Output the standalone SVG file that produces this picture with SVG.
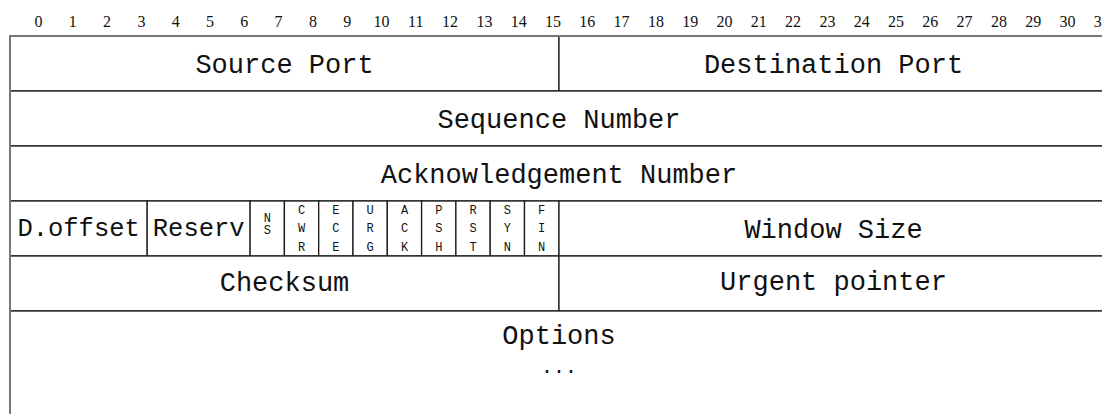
<svg xmlns="http://www.w3.org/2000/svg" width="1102" height="414" viewBox="0 0 1102 414">
<style>
.cell{fill:#fff;stroke:#1a1a1a;stroke-width:1.3}
.lbl{font-family:"Liberation Mono","DejaVu Sans Mono",monospace;font-size:27px;fill:#111;text-anchor:middle}
.mid{font-size:25.5px}
.dots{font-size:20px}
.flag{font-family:"Liberation Mono","DejaVu Sans Mono",monospace;font-size:12px;fill:#111;text-anchor:middle}
.ruler{font-family:"Liberation Serif","DejaVu Serif",serif;font-size:16px;fill:#111;text-anchor:middle}
.frame{fill:none;stroke:#777;stroke-width:2}
</style>
<rect width="1102" height="414" fill="#fff"/>
<g id="ruler" class="ruler">
<text x="38.5" y="26.5">0</text><text x="72.8" y="26.5">1</text><text x="107.1" y="26.5">2</text><text x="141.4" y="26.5">3</text><text x="175.7" y="26.5">4</text><text x="210" y="26.5">5</text><text x="244.3" y="26.5">6</text><text x="278.6" y="26.5">7</text><text x="312.9" y="26.5">8</text><text x="347.2" y="26.5">9</text><text x="381.5" y="26.5">10</text><text x="415.8" y="26.5">11</text><text x="450.1" y="26.5">12</text><text x="484.4" y="26.5">13</text><text x="518.7" y="26.5">14</text><text x="553" y="26.5">15</text><text x="587.3" y="26.5">16</text><text x="621.6" y="26.5">17</text><text x="655.9" y="26.5">18</text><text x="690.2" y="26.5">19</text><text x="724.5" y="26.5">20</text><text x="758.8" y="26.5">21</text><text x="793.1" y="26.5">22</text><text x="827.4" y="26.5">23</text><text x="861.7" y="26.5">24</text><text x="896" y="26.5">25</text><text x="930.3" y="26.5">26</text><text x="964.6" y="26.5">27</text><text x="998.9" y="26.5">28</text><text x="1033.2" y="26.5">29</text><text x="1067.5" y="26.5">30</text><text x="1101.8" y="26.5">31</text>
</g>
<g id="source-port"><rect class="cell" x="10" y="36" width="549" height="55"/><text class="lbl" x="284.5" y="73">Source Port</text></g>
<g id="destination-port"><rect class="cell" x="559" y="36" width="549" height="55"/><text class="lbl" x="833.5" y="73">Destination Port</text></g>
<g id="sequence-number"><rect class="cell" x="10" y="91" width="1098" height="55"/><text class="lbl" x="559" y="128">Sequence Number</text></g>
<g id="ack-number"><rect class="cell" x="10" y="146" width="1098" height="55"/><text class="lbl" x="559" y="183">Acknowledgement Number</text></g>
<g id="data-offset"><rect class="cell" x="10" y="201" width="137.2" height="55"/><text class="lbl mid" x="78.6" y="236">D.offset</text></g>
<g id="reserved"><rect class="cell" x="147.2" y="201" width="102.9" height="55"/><text class="lbl mid" x="198.7" y="236">Reserv</text></g>
<g id="flag-ns"><rect class="cell" x="250.1" y="201" width="34.3" height="55"/><text class="flag" x="267.3" y="222">N</text><text class="flag" x="267.3" y="234">S</text></g>
<g id="flag-cwr"><rect class="cell" x="284.4" y="201" width="34.3" height="55"/><text class="flag" x="301.6" y="214">C</text><text class="flag" x="301.6" y="231.5">W</text><text class="flag" x="301.6" y="251">R</text></g>
<g id="flag-ece"><rect class="cell" x="318.7" y="201" width="34.3" height="55"/><text class="flag" x="335.9" y="214">E</text><text class="flag" x="335.9" y="231.5">C</text><text class="flag" x="335.9" y="251">E</text></g>
<g id="flag-urg"><rect class="cell" x="353" y="201" width="34.3" height="55"/><text class="flag" x="370.2" y="214">U</text><text class="flag" x="370.2" y="231.5">R</text><text class="flag" x="370.2" y="251">G</text></g>
<g id="flag-ack"><rect class="cell" x="387.3" y="201" width="34.3" height="55"/><text class="flag" x="404.5" y="214">A</text><text class="flag" x="404.5" y="231.5">C</text><text class="flag" x="404.5" y="251">K</text></g>
<g id="flag-psh"><rect class="cell" x="421.6" y="201" width="34.3" height="55"/><text class="flag" x="438.8" y="214">P</text><text class="flag" x="438.8" y="231.5">S</text><text class="flag" x="438.8" y="251">H</text></g>
<g id="flag-rst"><rect class="cell" x="455.9" y="201" width="34.3" height="55"/><text class="flag" x="473.1" y="214">R</text><text class="flag" x="473.1" y="231.5">S</text><text class="flag" x="473.1" y="251">T</text></g>
<g id="flag-syn"><rect class="cell" x="490.2" y="201" width="34.3" height="55"/><text class="flag" x="507.4" y="214">S</text><text class="flag" x="507.4" y="231.5">Y</text><text class="flag" x="507.4" y="251">N</text></g>
<g id="flag-fin"><rect class="cell" x="524.5" y="201" width="34.5" height="55"/><text class="flag" x="541.7" y="214">F</text><text class="flag" x="541.7" y="231.5">I</text><text class="flag" x="541.7" y="251">N</text></g>
<g id="window-size"><rect class="cell" x="559" y="201" width="549" height="55"/><text class="lbl" x="833.5" y="238">Window Size</text></g>
<g id="checksum"><rect class="cell" x="10" y="256" width="549" height="55"/><text class="lbl" x="284.5" y="291">Checksum</text></g>
<g id="urgent-pointer"><rect class="cell" x="559" y="256" width="549" height="55"/><text class="lbl" x="833.5" y="290">Urgent pointer</text></g>
<g id="options"><rect class="cell" x="10" y="311" width="1098" height="120"/><text class="lbl" x="559" y="344">Options</text><text class="lbl dots" x="559" y="373">...</text></g>
<g id="connectors"/>
<rect class="frame" x="10" y="36" width="1098" height="400"/>
</svg>
